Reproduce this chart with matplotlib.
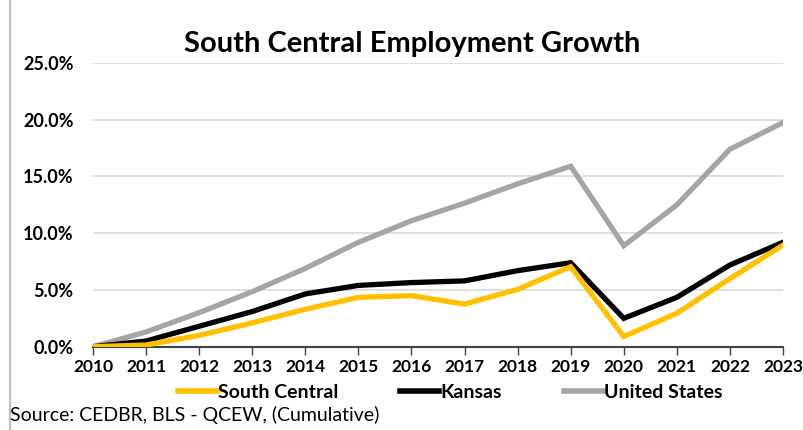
import matplotlib.pyplot as plt
from matplotlib.ticker import PercentFormatter
from matplotlib.lines import Line2D

plt.rcParams['font.family'] = ['Lato', 'DejaVu Sans']

years = list(range(2010, 2024))
south_central = [0.0, 0.15, 1.0, 2.1, 3.3, 4.35, 4.5, 3.75, 5.05, 7.05, 0.9, 2.95, 6.0, 8.95]
kansas = [0.0, 0.5, 1.8, 3.1, 4.65, 5.4, 5.65, 5.8, 6.7, 7.4, 2.5, 4.35, 7.2, 9.2]
united_states = [0.0, 1.3, 3.0, 4.85, 6.9, 9.2, 11.1, 12.65, 14.35, 15.9, 8.9, 12.5, 17.4, 19.75]

series = [
    ('South Central', south_central, '#FFC000'),
    ('Kansas', kansas, '#000000'),
    ('United States', united_states, '#A5A5A5'),
]

fig = plt.figure(figsize=(8.04, 4.3), dpi=100)
ax = fig.add_axes([93 / 804, 1 - 346.7 / 430, 690 / 804, 283.7 / 430])

for name, vals, color in series[::-1]:
    ax.plot(years, vals, color=color, lw=3.8, solid_joinstyle='miter', label=name, zorder=3)

ax.set_xlim(2010, 2023)
ax.set_ylim(0, 25)
ax.set_yticks([0, 5, 10, 15, 20, 25])
ax.yaxis.set_major_formatter(PercentFormatter(decimals=1))
ax.set_xticks(years)
ax.grid(axis='y', color='#D9D9D9', lw=1.2)
ax.set_axisbelow(True)
for s in ['top', 'right', 'left']:
    ax.spines[s].set_visible(False)
ax.spines['bottom'].set_color('#404040')
ax.spines['bottom'].set_linewidth(1.5)
ax.tick_params(axis='y', length=0, pad=14, labelsize=13)
ax.tick_params(axis='x', direction='out', length=6, width=1, color='#404040', pad=3, labelsize=12.5)
for lab in ax.get_xticklabels() + ax.get_yticklabels():
    lab.set_fontweight('bold')

fig.text(412 / 804, 1 - 44 / 430, 'South Central Employment Growth', ha='center', va='center',
         fontsize=21, fontweight='bold')

handles = [Line2D([], [], color=c, lw=4) for _, _, c in series]
leg = fig.legend(handles, [n for n, _, _ in series], loc='center', bbox_to_anchor=(450 / 804, 1 - 392 / 430),
                 ncol=3, frameon=False, handlelength=2.0, handletextpad=0.05, columnspacing=3.2,
                 prop={'weight': 'bold', 'size': 14})

fig.text(10 / 804, 1 - 415 / 430, 'Source: CEDBR, BLS - QCEW, (Cumulative)', ha='left', va='center', fontsize=14)

fig.add_artist(Line2D([10 / 804, 10 / 804], [0, 1], color='#BFBFBF', lw=1.5))

fig.savefig('out.png', dpi=100)
